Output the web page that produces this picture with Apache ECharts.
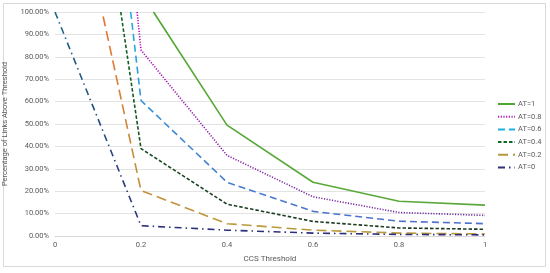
<!DOCTYPE html>
<html><head><meta charset="utf-8">
<script src="https://cdn.jsdelivr.net/npm/echarts@6/dist/echarts.min.js"></script>
<style>html,body{margin:0;padding:0;background:#fff}#c{width:550px;height:273px}</style>
</head><body><div id="c"></div>
<script>
// Data
const seriesNames = ['AT=1', 'AT=0.8', 'AT=0.6', 'AT=0.4', 'AT=0.2', 'AT=0'];
const xAT1  = [0.229, 0.4, 0.6, 0.8, 1];
const yAT1  = [100, 49.5, 24, 15.5, 13.8];
const xAT08 = [0.191, 0.2, 0.4, 0.6, 0.8, 1];
const yAT08 = [100, 83, 36, 17.5, 10.5, 9.2];
const xAT06 = [0.176, 0.2, 0.4, 0.6, 0.8, 1];
const yAT06 = [100, 60.5, 24, 11, 6.6, 5.5];
const xAT04 = [0.153, 0.2, 0.4, 0.6, 0.8, 1];
const yAT04 = [100, 39, 14.2, 6.5, 3.6, 3.0];
const xAT02 = [0.112, 0.2, 0.4, 0.6, 0.8, 1];
const yAT02 = [98, 20.3, 5.5, 2.6, 1.3, 0.9];
const xAT0  = [0, 0.2, 0.4, 0.6, 0.8, 1];
const yAT0  = [100, 4.6, 2.6, 1.3, 0.7, 0.5];
const yTicks = { min: 0, max: 100, interval: 10 };
const xTicks = { min: 0, max: 1, interval: 0.2 };

const pair = (xs, ys) => xs.map((x, i) => [x, ys[i]]);
const grad = (c1, c2) => new echarts.graphic.LinearGradient(0, 0, 0, 1, [{offset: 0, color: c1}, {offset: 1, color: c2}]);

const styles = [
  { color: grad('#4ea72e', '#5aa83a'), legend: '#4ea72e', type: 'solid', width: 1.6 },
  { color: grad('#c000c0', '#7030a0'), legend: '#b020b0', type: [1.2, 1.5], width: 1.6 },
  { color: grad('#1eb0e0', '#4f6fd0'), legend: '#1eb0e0', type: [7, 4], width: 1.6 },
  { color: grad('#0e6a26', '#1e3a22'), legend: '#0e6a26', type: [3.5, 2], width: 1.6 },
  { color: grad('#e8702e', '#b89a3c'), legend: '#b89a3c', type: [10, 5], width: 1.6 },
  { color: grad('#1c6a8a', '#2e2e7a'), legend: '#2e2e7a', type: [7, 4, 1.5, 4], width: 1.6 }
];
const dataSets = [pair(xAT1, yAT1), pair(xAT08, yAT08), pair(xAT06, yAT06), pair(xAT04, yAT04), pair(xAT02, yAT02), pair(xAT0, yAT0)];

const chart = echarts.init(document.getElementById('c'), null, {renderer: 'canvas'});
chart.setOption({
  animation: false,
  backgroundColor: '#fff',
  graphic: [{ type: 'rect', shape: { x: 3.5, y: 3.5, width: 542, height: 263 }, style: { fill: 'none', stroke: '#d9d9d9', lineWidth: 1 }, silent: true }],
  grid: { left: 55, right: 65, top: 12, bottom: 37, containLabel: false, outerBoundsMode: 'none' },
  legend: {
    orient: 'vertical', left: 497, top: 100, padding: 0,
    itemWidth: 17, itemHeight: 8, itemGap: 4.7,
    itemStyle: { opacity: 0 },
    textStyle: { fontFamily: 'Roboto, sans-serif', fontSize: 7.5, color: '#595959', padding: [0, 0, 0, -2] },
    data: seriesNames.map((n, i) => ({ name: n, lineStyle: { color: styles[i].legend } }))
  },
  xAxis: {
    type: 'value', min: xTicks.min, max: xTicks.max, interval: xTicks.interval,
    name: 'CCS Threshold', nameLocation: 'middle', nameGap: 19,
    nameTextStyle: { fontFamily: 'Roboto, sans-serif', fontSize: 8, color: '#595959' },
    axisLine: { show: true, lineStyle: { color: '#d9d9d9' } },
    axisTick: { show: false },
    splitLine: { show: false },
    axisLabel: { fontFamily: 'Roboto, sans-serif', fontSize: 7.5, color: '#595959', margin: 5 }
  },
  yAxis: {
    type: 'value', min: yTicks.min, max: yTicks.max, interval: yTicks.interval,
    name: 'Percentage of Links Above Threshold', nameLocation: 'middle', nameGap: 35,
    nameTextStyle: { fontFamily: 'Roboto, sans-serif', fontSize: 7.5, color: '#595959' },
    axisLine: { show: false }, axisTick: { show: false },
    splitLine: { lineStyle: { color: '#e3e3e3', width: 1 } },
    axisLabel: { fontFamily: 'Roboto, sans-serif', fontSize: 7.5, color: '#595959', margin: 6, formatter: v => v.toFixed(2) + '%' }
  },
  series: dataSets.map((d, i) => ({
    name: seriesNames[i], type: 'line', data: d, symbol: 'none', clip: true,
    lineStyle: { color: styles[i].color, type: styles[i].type, width: styles[i].width, cap: 'butt' },
    itemStyle: { color: styles[i].legend }
  }))
});
</script></body></html>
